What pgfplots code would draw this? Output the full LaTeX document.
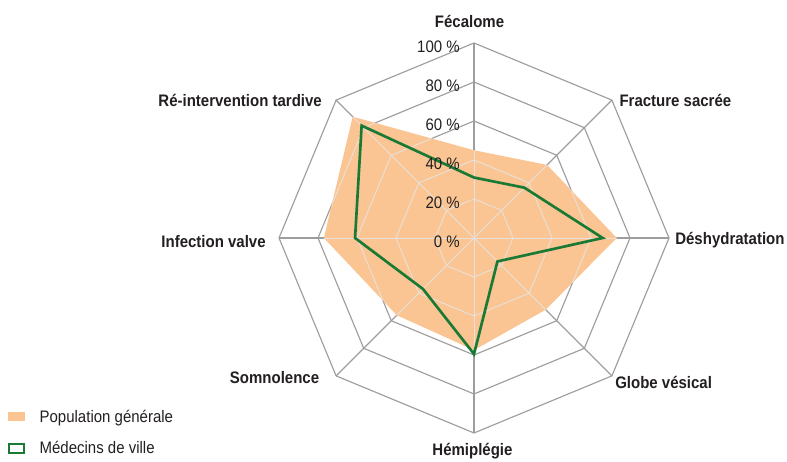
\documentclass[border=0pt]{standalone}
\usepackage{fontspec}
\setmainfont{Liberation Sans}[FakeStretch=0.9]
\usepackage{pgfplots}
\pgfplotsset{compat=1.18}

\definecolor{popfill}{HTML}{FAC592}
\definecolor{medline}{HTML}{1A7A35}
\definecolor{gridgrey}{HTML}{9D9D9D}
\definecolor{gridlight}{HTML}{E8E0DA}
\definecolor{txt}{HTML}{231F20}

\tikzset{
  lbl/.style={font=\fontsize{12.5}{14}\selectfont\bfseries, text=txt, inner sep=0pt},
  pct/.style={font=\fontsize{12.5}{14}\selectfont, text=txt, inner sep=0pt, anchor=base east},
}

% octagonal rings + spokes, in axis units (100 = 100 %)
\newcommand{\radargrid}[2]{%
  \foreach \r in {20,40,60,80,100}{%
    \draw[path picture={}, fill=none, draw=#1, line width=#2] (axis cs:0,\r) -- (axis cs:{0.7071*\r},{0.7071*\r})
      -- (axis cs:\r,0) -- (axis cs:{0.7071*\r},{-0.7071*\r})
      -- (axis cs:0,-\r) -- (axis cs:{-0.7071*\r},{-0.7071*\r})
      -- (axis cs:-\r,0) -- (axis cs:{-0.7071*\r},{0.7071*\r}) -- cycle;
  }%
  \foreach \a in {0,45,90,135}{%
    \draw[path picture={}, fill=none, draw=#1, line width=#2] (axis cs:{100*cos(\a)},{100*sin(\a)})
      -- (axis cs:{-100*cos(\a)},{-100*sin(\a)});
  }%
}

\begin{document}
\begin{tikzpicture}
\begin{axis}[
  name=ax,
  x=1.4625pt, y=1.4625pt,
  xmin=-243.08, xmax=160.51,
  ymin=-114.87, ymax=122.05,
  hide axis, clip=false,
  legend style={draw=none, fill=none, inner sep=0pt,
    at={(axis cs:-239.3,-88.4)}, anchor=north west,
    font=\fontsize{12.5}{14}\selectfont, text=txt,
    nodes={inner sep=0pt, text height=9pt, text depth=3pt},
    column sep=10.8pt, row sep=11.25pt},
  legend cell align=left,
]
\pgfplotsextra{\radargrid{gridgrey}{0.85pt}}

% Population generale (angle, %)
\addplot[forget plot, data cs=polar, draw=none, fill=popfill,
  path picture={\radargrid{gridlight}{0.7pt}}] coordinates {
  (90,45) (45,53) (0,73.2) (-45,52) (-90,57.5) (-135,56) (180,77) (135,88) (90,45)
};
% Medecins de ville
\addplot[forget plot, data cs=polar, medline, line width=2pt] coordinates {
  (90,31) (45,36.5) (0,66) (-45,17) (-90,59.5) (-135,37) (180,61) (135,81.5) (90,31)
};

\addlegendimage{legend image code/.code={\fill[popfill] (0pt,-1pt) rectangle (12pt,5pt);}}
\addlegendentry{Population générale}
\addlegendimage{legend image code/.code={\draw[medline, line width=1.5pt, fill=white] (0.75pt,-2.5pt) rectangle (12.25pt,4pt);}}
\addlegendentry{Médecins de ville}

\node[pct] at (axis cs:-7.2,95) {100 \%};
\node[pct] at (axis cs:-7.2,75) {80 \%};
\node[pct] at (axis cs:-7.2,55) {60 \%};
\node[pct] at (axis cs:-7.2,35) {40 \%};
\node[pct] at (axis cs:-7.2,15) {20 \%};
\node[pct] at (axis cs:-7.2,-5) {0 \%};

\node[lbl, anchor=base] at (axis cs:-2.3,108.05) {Fécalome};
\node[lbl, anchor=base west] at (axis cs:74.5,67.3) {Fracture sacrée};
\node[lbl, anchor=base west] at (axis cs:103.1,-3.2) {Déshydratation};
\node[lbl, anchor=base west] at (axis cs:72.3,-77.1) {Globe vésical};
\node[lbl, anchor=base] at (axis cs:-0.8,-111.6) {Hémiplégie};
\node[lbl, anchor=base east] at (axis cs:-79.3,-74.5) {Somnolence};
\node[lbl, anchor=base east] at (axis cs:-106.7,-4.8) {Infection valve};
\node[lbl, anchor=base east] at (axis cs:-77.9,67.2) {Ré-intervention tardive};
\end{axis}
\pgfresetboundingbox
\useasboundingbox (ax.south west) rectangle (ax.north east);
\end{tikzpicture}
\end{document}
